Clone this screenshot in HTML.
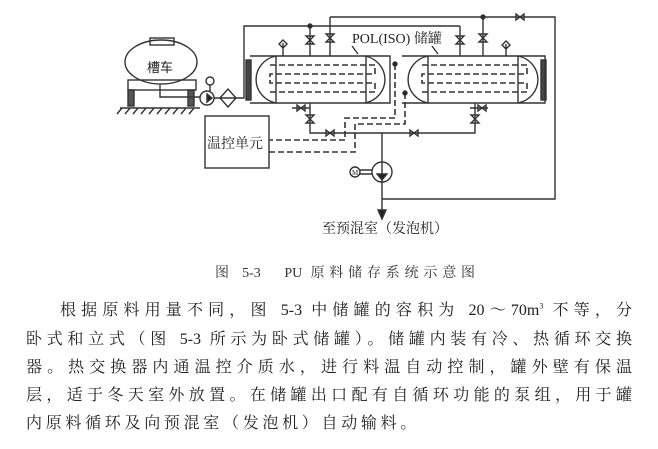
<!DOCTYPE html>
<html><head><meta charset="utf-8"><style>
body{margin:0;width:658px;height:449px;background:#fff;overflow:hidden;font-family:"Liberation Serif","Noto Serif CJK SC",serif;color:#222}
svg{position:absolute;left:0;top:0}
.cap{position:absolute;top:262px;left:215px;width:260px;text-align:justify;text-align-last:justify;font-size:14px;color:#333}
.l{position:absolute;left:26px;width:606px;font-size:16px;height:20px;line-height:20px;text-align:justify;text-align-last:justify;color:#222;white-space:nowrap}
</style></head><body>
<svg width="658" height="260" viewBox="0 0 658 260" fill="none" stroke="#333" stroke-width="1.4">
<rect x="150" y="38" width="24" height="7"/>
<ellipse cx="161" cy="62" rx="36" ry="22"/>
<text x="147" y="72" font-size="13" fill="#222" stroke="none" font-family="Noto Sans CJK SC,sans-serif">槽车</text>
<rect x="128" y="80" width="68" height="10"/>
<rect x="128" y="90" width="6" height="16" fill="#555"/><rect x="188" y="90" width="6" height="16" fill="#555"/>
<path d="M160 85 V97 H200"/>
<line x1="120" y1="108" x2="200" y2="108"/>
<path d="M122 108l-5 6M130 108l-5 6M138 108l-5 6M146 108l-5 6M154 108l-5 6M162 108l-5 6M170 108l-5 6M178 108l-5 6M186 108l-5 6M194 108l-5 6"/>
<circle cx="207" cy="98" r="7"/><circle cx="210" cy="81" r="4"/><line x1="210" y1="85" x2="210" y2="91"/>
<path d="M207 94l5 4-5 4z" fill="#222"/>
<path d="M214 98 H220 M220 98 l8-9 8 9-8 9z M220 98 H236"/>
<path d="M236 98 H244 V26 H460"/>
<rect x="246" y="60" width="5" height="40" fill="#444"/>
<rect x="541" y="60" width="5" height="40" fill="#444"/>
<path d="M250 56 H390 V103 H250"/>
<path d="M276 56 A25 24 0 0 0 276 103 M365 56 A25 24 0 0 1 365 103"/>
<line x1="276" y1="56" x2="276" y2="103"/><line x1="366" y1="56" x2="366" y2="103"/>
<path d="M402 56 H545 V103 H402"/>
<path d="M428 56 A25 24 0 0 0 428 103 M518 56 A25 24 0 0 1 518 103"/>
<line x1="428" y1="56" x2="428" y2="103"/><line x1="518" y1="56" x2="518" y2="103"/>
<g stroke-dasharray="6,3" stroke-width="1.6">
<path d="M270 65 H375 V74 H270 V83 H375 V92 H270"/>
<path d="M422 65 H527 V74 H422 V83 H527 V92 H422"/>
<path d="M395 64 V118 H345 V140 H268"/>
<path d="M405 93 V124 H355 V152 H268"/>
</g>
<circle cx="395" cy="64" r="2" fill="#222"/><circle cx="405" cy="93" r="2" fill="#222"/>
<text x="352" y="43" font-size="14" fill="#222" stroke="none">POL(ISO) 储罐</text>
<line x1="352" y1="46" x2="358" y2="54"/><line x1="432" y1="46" x2="438" y2="54"/>
<path d="M283 56 V43 M279 44l4-4 4 4-4 4z"/>
<path d="M310 56 V26 M306 36h8l-8 8h8z"/>
<path d="M330 56 V17 M326 34h8l-8 8h8z"/>
<path d="M460 56 V26 M456 36h8l-8 8h8z"/>
<path d="M483 56 V17 M479 34h8l-8 8h8z"/>
<path d="M506 56 V44 M502 45l4-4 4 4-4 4z"/>
<circle cx="310" cy="26" r="2" fill="#222"/><circle cx="483" cy="17" r="2" fill="#222"/>
<path d="M330 17 H555 V199 H382"/>
<path d="M516 14v6l8-6v6z"/>
<path d="M310 103 V133 H475 V103"/>
<path d="M292 108 H310 M297 105v6l8-6v6z M488 108 H470 M478 105v6l8-6v6z"/>
<path d="M306 115h8l-8 8h8z M471 115h8l-8 8h8z"/>
<path d="M326 130v6l8-6v6z M410 130v6l8-6v6z"/>
<line x1="382" y1="133" x2="382" y2="215"/>
<circle cx="382" cy="172" r="10"/>
<path d="M377 174h10l-5 6z" fill="#222"/>
<circle cx="355" cy="172" r="5"/><text x="352" y="175" font-size="7" fill="#222" stroke="none">M</text>
<path d="M360 170h12 M360 174h12"/>
<path d="M378 210l4 9 4-9z" fill="#222"/>
<text x="322" y="233" font-size="14" fill="#222" stroke="none">至预混室（发泡机）</text>
<rect x="205" y="116" width="64" height="52" fill="#fff"/>
<text x="207" y="148" font-size="14" fill="#222" stroke="none">温控单元</text>
</svg>
<div class="cap">图 5-3　PU 原料储存系统示意图</div>
<div class="l" style="top:301px;left:60px;width:572px">根据原料用量不同，图 5-3 中储罐的容积为 20～70m<sup style="font-size:8px;line-height:0">3</sup> 不等，分</div>
<div class="l" style="top:330px">卧式和立式（图 5-3 所示为卧式储罐）。储罐内装有冷、热循环交换</div>
<div class="l" style="top:358px">器。热交换器内通温控介质水，进行料温自动控制，罐外壁有保温</div>
<div class="l" style="top:386px">层，适于冬天室外放置。在储罐出口配有自循环功能的泵组，用于罐</div>
<div class="l" style="top:414px;text-align:left;text-align-last:left;letter-spacing:3.7px">内原料循环及向预混室（发泡机）自动输料。</div>
</body></html>
